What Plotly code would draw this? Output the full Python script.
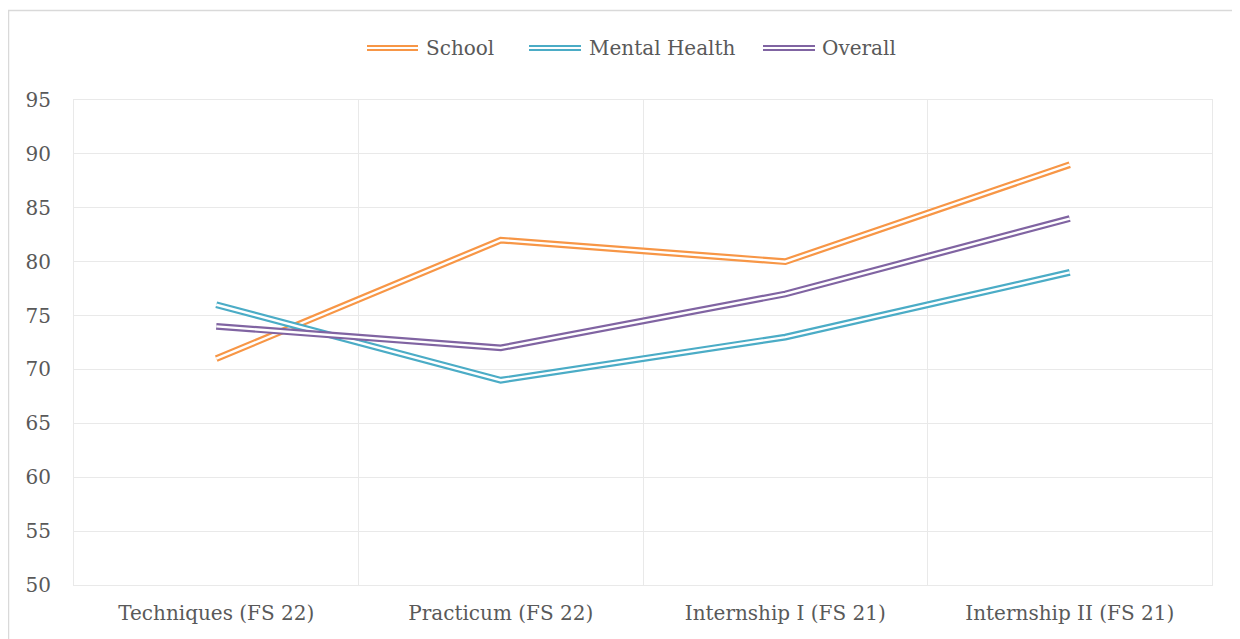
import plotly.graph_objects as go

categories = ["Techniques (FS 22)", "Practicum (FS 22)", "Internship I (FS 21)", "Internship II (FS 21)"]
school = [71, 82, 80, 89]
mental_health = [76, 69, 73, 79]
overall = [74, 72, 77, 84]

series = [
    ("School", school, "#F79646"),
    ("Mental Health", mental_health, "#4BACC6"),
    ("Overall", overall, "#8064A2"),
]

FONT = "DejaVu Serif"
TXT = "#595959"
GRID = "#e9e9e9"
FS = 20

fig = go.Figure()
for name, vals, col in series:
    fig.add_trace(go.Scatter(x=categories, y=vals, mode="lines", name=name,
                             line=dict(color=col, width=6.8), showlegend=False,
                             hoverinfo="skip"))
    fig.add_trace(go.Scatter(x=categories, y=vals, mode="lines", name=name,
                             line=dict(color="white", width=2.4), showlegend=False,
                             hoverinfo="skip"))

# page has an 8px body margin; work in figure coordinates (page - 8)
OFF = 8
FW, FH = 1240 - OFF, 639 - OFF
L, R, T, B = 74 - OFF, 1212 - OFF, 100 - OFF, 585 - OFF
W, H = R - L, B - T

def px(x):
    return (x - OFF - L) / W

def py(y):
    return (B - (y - OFF)) / H

shapes = []
annotations = []
# manual legend with double-line symbols (page pixel positions)
legend_items = [("School", "#F79646", 367, 418, 424),
                ("Mental Health", "#4BACC6", 529, 581, 587),
                ("Overall", "#8064A2", 763, 815, 820)]
for name, col, x0, x1, tx in legend_items:
    for yy in (46, 50):
        shapes.append(dict(type="line", xref="paper", yref="paper",
                           x0=px(x0), x1=px(x1), y0=py(yy), y1=py(yy),
                           line=dict(color=col, width=2.2)))
    annotations.append(dict(xref="paper", yref="paper", x=px(tx), y=py(48),
                            xanchor="left", yanchor="middle", text=name,
                            showarrow=False, font=dict(family=FONT, size=FS, color=TXT)))

# outer chart border
shapes.append(dict(type="rect", xref="paper", yref="paper",
                   x0=px(8.5), x1=px(1260), y0=py(10.5), y1=py(660),
                   line=dict(color="#d9d9d9", width=1.5), fillcolor="rgba(0,0,0,0)",
                   layer="below"))

fig.update_layout(
    width=FW, height=FH,
    margin=dict(l=L, r=FW - R, t=T, b=FH - B),
    paper_bgcolor="white", plot_bgcolor="white",
    font=dict(family=FONT, size=FS, color=TXT),
    shapes=shapes, annotations=annotations,
    showlegend=False,
    xaxis=dict(type="category", tickson="boundaries", showgrid=True, gridcolor=GRID,
               gridwidth=1, ticks="", showline=True, linecolor=GRID, mirror=True,
               zeroline=False, tickfont=dict(family=FONT, size=FS, color=TXT),
               range=[-0.5, 3.5], ticklabelstandoff=10),
    yaxis=dict(range=[50, 95], dtick=5, tick0=50, showgrid=True, gridcolor=GRID,
               gridwidth=1, ticks="", showline=True, linecolor=GRID, mirror=True,
               zeroline=False, tickfont=dict(family=FONT, size=FS, color=TXT),
               ticklabelstandoff=18),
)

fig.write_html("out.html")
